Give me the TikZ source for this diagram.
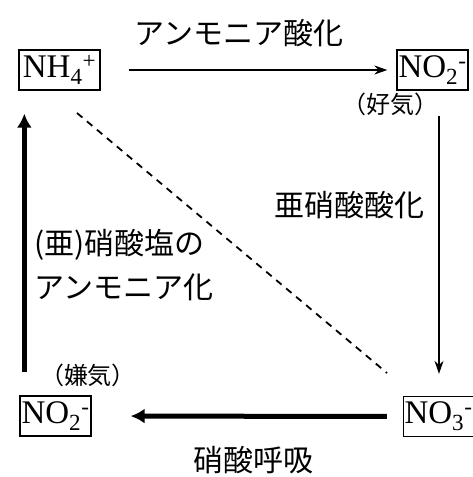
\documentclass[tikz,border=0pt]{standalone}
\usepackage{fontspec}
\setmainfont{Liberation Serif}
\newfontfamily\jp{Noto Sans CJK JP}
\usetikzlibrary{arrows.meta,calc}
\begin{document}
\begin{tikzpicture}[x=1pt,y=-1pt,
  chem/.style={draw,line width=1.3pt,inner sep=1pt,minimum height=40pt,
    font=\fontsize{33}{33}\selectfont},
  jlabel/.style={font=\jp\fontsize{30}{30}\selectfont,inner sep=0pt},
  jsmall/.style={font=\jp\fontsize{24}{24}\selectfont,inner sep=0pt},
  thinarrow/.style={line width=1.6pt,-{Stealth[length=13pt,width=9pt]}},
  thickarrow/.style={line width=5pt,-{Latex[length=14pt,width=15pt]}}
]
\useasboundingbox (0,0) rectangle (473,477);
\fill[white] (0,0) rectangle (473,477);
% species boxes
\node[chem,minimum width=81pt] (nh4) at (59.5,70) {NH\textsubscript{4}\textsuperscript{+}};
\node[chem,minimum width=71pt] (no2a) at (432.5,70) {NO\textsubscript{2}\textsuperscript{-}};
\node[chem,minimum width=69pt] (no3) at (438.5,416.5) {NO\textsubscript{3}\textsuperscript{-}};
\node[chem,minimum width=71pt] (no2b) at (55.5,416) {NO\textsubscript{2}\textsuperscript{-}};
% labels
\node[jlabel] (t1) at (239,33) {アンモニア酸化};
\node[jsmall] (t2) at (390,104) {（好気）};
\node[jsmall] (t6) at (88,375) {（嫌気）};
\node[jlabel] (t3) at (349,205) {亜硝酸酸化};
\node[jlabel,anchor=west] (t4) at (34,245) {(亜)硝酸塩の};
\node[jlabel,anchor=west] (t5) at (34,287) {アンモニア化};
\node[jlabel] (t7) at (253,460) {硝酸呼吸};
% connectors
\draw[thinarrow,shorten <=28pt,shorten >=9pt] (nh4.east) -- (no2a.west);
\coordinate (r1) at ($(no2a.south)+(6.5,0)$);
\draw[thinarrow,shorten <=25pt,shorten >=22pt] (r1) -- (r1 |- no3.north);
\draw[thickarrow,shorten <=16pt,shorten >=39pt] (no3.west) -- (no2b.east);
\coordinate (l1) at ($(no2b.north west)+(5,0)$);
\draw[thickarrow,line width=4.5pt,shorten <=23pt,shorten >=23pt] (l1) -- (l1 |- nh4.south);
\coordinate (d1) at (77,113);
\coordinate (d2) at (387,373);
\draw[line width=1.8pt,dash pattern=on 7pt off 6pt] (d1) -- (d2);
\end{tikzpicture}
\end{document}
